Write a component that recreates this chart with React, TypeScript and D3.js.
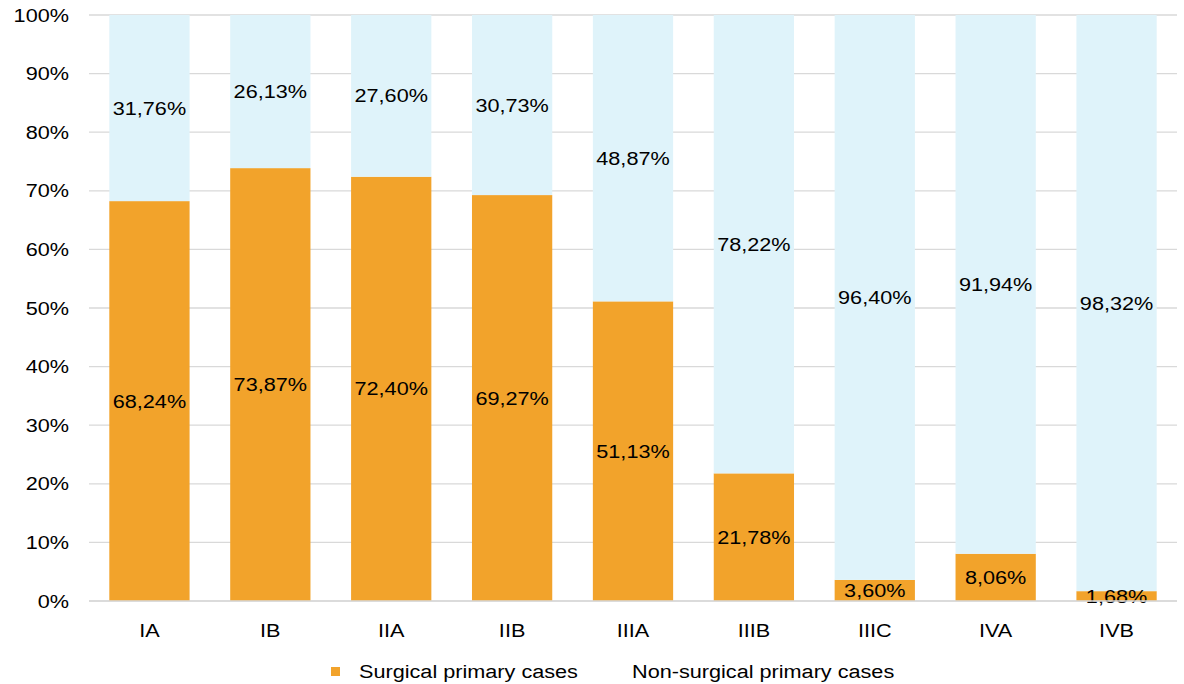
import React from "react";
import * as d3 from "d3";

const stages = ["IA", "IB", "IIA", "IIB", "IIIA", "IIIB", "IIIC", "IVA", "IVB"];
const surgical = [68.24, 73.87, 72.4, 69.27, 51.13, 21.78, 3.6, 8.06, 1.68];
const nonSurgical = [31.76, 26.13, 27.6, 30.73, 48.87, 78.22, 96.4, 91.94, 98.32];
const yTicks = [0, 10, 20, 30, 40, 50, 60, 70, 80, 90, 100];
const seriesNames = ["Surgical primary cases", "Non-surgical primary cases"];

const W = 1184;
const H = 684;
const orange = "#F2A32B";
const blue = "#DFF3FA";
const sx = 1.14; // glyphs in the reference are slightly wide

const fmt = (v: number) => v.toFixed(2).replace(".", ",") + "%";

const Txt: React.FC<{ x: number; y: number; anchor?: string; size?: number; children: React.ReactNode }> = ({
  x,
  y,
  anchor = "middle",
  size = 19,
  children,
}) => (
  <text
    transform={`translate(${x},${y}) scale(${sx},1)`}
    textAnchor={anchor}
    dominantBaseline="central"
    fontSize={size}
    fill="#000"
  >
    {children}
  </text>
);

export default function App() {
  const x = d3.scaleBand<string>().domain(stages).range([89, 1177]).paddingInner(0.336).paddingOuter(0.168);
  const y = d3.scaleLinear().domain([0, 100]).range([601, 15]);

  return (
    <svg width={W} height={H} style={{ position: "absolute", left: 0, top: 0, fontFamily: "'Liberation Sans', Arial, sans-serif" }}>
      <rect width={W} height={H} fill="#fff" />
      {yTicks.map((t) => (
        <g key={t}>
          <line x1={89} x2={1177} y1={y(t)} y2={y(t)} stroke="#d9d9d9" strokeWidth={1.3} />
          <Txt x={69} y={y(t)} anchor="end">
            {t}%
          </Txt>
        </g>
      ))}
      {stages.map((s, i) => {
        const bx = x(s) ?? 0;
        const bw = x.bandwidth();
        const cx = bx + bw / 2;
        return (
          <g key={s}>
            <rect x={bx} y={y(surgical[i])} width={bw} height={y(0) - y(surgical[i])} fill={orange} />
            <rect x={bx} y={y(100)} width={bw} height={y(surgical[i]) - y(100)} fill={blue} />
            <Txt x={cx} y={y(surgical[i] / 2)}>{fmt(surgical[i])}</Txt>
            <Txt x={cx} y={y(surgical[i] + nonSurgical[i] / 2)}>{fmt(nonSurgical[i])}</Txt>
            <Txt x={cx} y={630}>{s}</Txt>
          </g>
        );
      })}
      <line x1={89} x2={1177} y1={y(0)} y2={y(0)} stroke="#d9d9d9" strokeWidth={1.3} />
      <g>
        <rect x={331} y={667} width={9} height={9} fill={orange} />
        <Txt x={359} y={671} anchor="start">{seriesNames[0]}</Txt>
        <rect x={605} y={667} width={9} height={9} fill="#fff" />
        <Txt x={632} y={671} anchor="start">{seriesNames[1]}</Txt>
      </g>
    </svg>
  );
}
